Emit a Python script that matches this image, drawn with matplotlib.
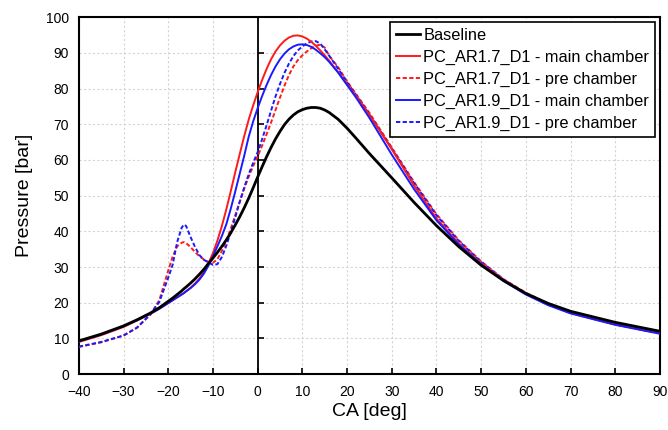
import matplotlib
matplotlib.use('Agg')
from matplotlib import pyplot as plt

plt.rcParams['font.family'] = ['Liberation Sans', 'DejaVu Sans']

# crank angle [deg]
ca = [-40, -35, -30, -27, -24, -22, -20, -19, -18, -17, -16.5, -16, -15, -14, -13, -12, -11,
      -10, -9, -8, -7, -6, -5, -4, -3, -2, -1, 0, 1, 2, 3, 4, 5, 6, 7, 8, 9,
      10, 11, 12, 13, 14, 15, 16, 18, 20, 22, 25, 30, 35, 40, 45, 50, 55, 60, 65, 70, 80, 90]

# pressure [bar]
baseline = [9.3, 11.2, 13.5, 15.2, 17.1, 18.6, 20.4, 21.3, 22.3, 23.3, 23.9, 24.4, 25.5, 26.7, 28.0, 29.4, 31.0,
            32.5, 34.1, 35.8, 37.6, 39.6, 41.8, 44.1, 46.6, 49.3, 52.2, 55.2, 58.1, 60.9, 63.5, 65.9, 68.0, 69.9, 71.4, 72.6, 73.5,
            74.1, 74.5, 74.7, 74.7, 74.5, 74.0, 73.3, 71.4, 68.9, 66.1, 61.8, 55.0, 48.1, 41.6, 35.7, 30.5, 26.2, 22.6, 19.8, 17.6, 14.5, 12.0]

ar17_main = [9.0, 10.9, 13.2, 15.0, 16.9, 18.3, 19.9, 20.7, 21.5, 22.3, 22.7, 23.2, 24.2, 25.4, 26.8, 28.6, 31.0,
             33.9, 37.4, 41.5, 46.2, 51.3, 56.6, 61.7, 66.7, 71.3, 75.3, 79.0, 82.4, 85.5, 88.2, 90.4, 92.1, 93.4, 94.3, 94.8, 94.9,
             94.6, 94.0, 93.1, 92.0, 90.7, 89.3, 87.8, 84.6, 81.2, 77.9, 72.6, 63.0, 52.8, 43.6, 36.6, 31.0, 26.3, 22.5, 19.5, 17.1, 13.9, 11.5]

ar17_pre = [7.6, 8.9, 10.8, 13.0, 16.6, 20.7, 29.0, 33.0, 35.8, 36.8, 37.0, 36.7, 35.6, 34.2, 33.0, 32.1, 31.4,
            31.2, 32.2, 34.5, 37.4, 40.8, 44.5, 48.3, 52.0, 55.3, 58.3, 61.0, 64.0, 67.2, 70.5, 74.0, 77.5, 80.8, 83.8, 86.2, 88.0,
            89.3, 90.4, 91.3, 92.0, 92.3, 91.5, 89.2, 86.0, 82.0, 78.5, 73.2, 63.5, 53.8, 44.8, 37.5, 31.6, 26.6, 22.8, 19.7, 17.3, 14.0, 11.5]

ar19_main = [9.2, 11.1, 13.4, 15.1, 16.9, 18.3, 19.9, 20.7, 21.5, 22.3, 22.7, 23.2, 24.1, 25.2, 26.5, 28.2, 30.4,
             33.0, 35.8, 38.7, 42.0, 46.4, 51.2, 56.2, 61.2, 66.5, 70.8, 74.5, 77.9, 81.0, 83.8, 86.2, 88.2, 89.8, 91.0, 91.8, 92.3,
             92.4, 92.2, 91.7, 90.9, 89.9, 88.8, 87.5, 84.5, 81.0, 77.5, 71.8, 61.5, 51.8, 43.1, 36.3, 30.8, 26.1, 22.3, 19.3, 17.0, 13.8, 11.3]

ar19_pre = [7.7, 9.0, 10.8, 13.0, 16.8, 20.2, 27.0, 30.7, 37.0, 41.0, 41.9, 41.5, 38.4, 35.6, 33.3, 32.0, 31.3,
            30.6, 30.8, 32.8, 36.0, 39.8, 44.0, 48.3, 52.3, 56.0, 59.2, 62.2, 65.8, 69.7, 73.8, 77.8, 81.3, 84.4, 87.0, 89.1, 90.7,
            91.8, 92.7, 93.2, 93.3, 92.6, 91.0, 89.2, 85.6, 81.8, 78.2, 72.8, 63.2, 53.5, 44.5, 37.3, 31.4, 26.5, 22.6, 19.5, 17.2, 13.9, 11.4]

fig = plt.figure(figsize=(6.68, 4.30), dpi=100)
ax = fig.add_axes([0.118, 0.130, 0.870, 0.830])

dash = (0, (2.2, 1.2))
ax.plot(ca, baseline, color='black', lw=2.0, label='Baseline', zorder=5)
ax.plot(ca, ar17_main, color='#ff1a1a', lw=1.4, label='PC_AR1.7_D1 - main chamber', zorder=4)
ax.plot(ca, ar17_pre, color='#ff1a1a', lw=1.4, ls=dash, label='PC_AR1.7_D1 - pre chamber', zorder=3)
ax.plot(ca, ar19_main, color='#1a1aff', lw=1.4, label='PC_AR1.9_D1 - main chamber', zorder=4)
ax.plot(ca, ar19_pre, color='#1a1aff', lw=1.4, ls=dash, label='PC_AR1.9_D1 - pre chamber', zorder=3)

ax.set_xlim(-40, 90)
ax.set_ylim(0, 100)
ax.set_xticks(range(-40, 91, 10))
ax.set_yticks(range(0, 101, 10))
ax.grid(True, color='#d4d4d4', ls=(0, (2, 2)), lw=0.8)
ax.set_axisbelow(True)

for s in ax.spines.values():
    s.set_linewidth(1.5)
ax.tick_params(axis='x', direction='in', length=4, width=1.2, labelsize=10, pad=8)
ax.tick_params(axis='y', length=0, labelsize=10, pad=7)

# vertical axis crossing at CA = 0, with its tick marks
ax.axvline(0, color='black', lw=1.3, zorder=2)
ax.plot([0] * 11, range(0, 101, 10), ls='none', marker=1, ms=4, mew=1.2, color='black', zorder=2)

ax.set_xlabel('CA [deg]', fontsize=14, labelpad=3)
ax.set_ylabel('Pressure [bar]', fontsize=14, labelpad=9)

leg = ax.legend(loc='upper right', fontsize=11.8, handlelength=1.5, handletextpad=0.2,
                labelspacing=0.42, borderpad=0.35, borderaxespad=0.3, fancybox=False,
                framealpha=1, edgecolor='black')
leg.get_frame().set_linewidth(1.2)

plt.savefig('out.png', dpi=100)
